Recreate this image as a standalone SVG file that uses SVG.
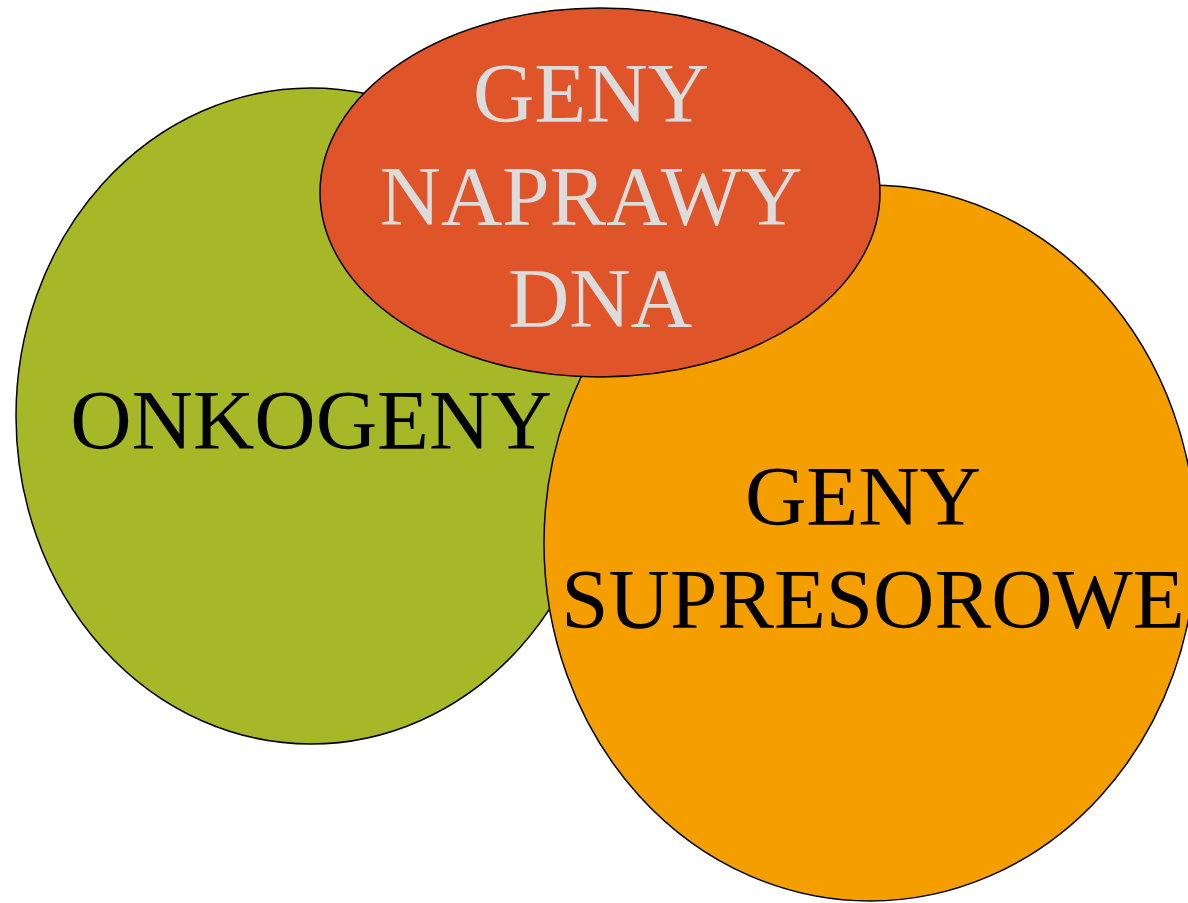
<svg xmlns="http://www.w3.org/2000/svg" width="1188" height="903" viewBox="0 0 1188 903">
<style>
.sh{stroke:#000;stroke-width:1.5}
.t{font-family:"Liberation Serif","Times New Roman",serif;font-size:85px;text-anchor:middle}
.dark{fill:#000}
.light{fill:#dcdcdc}
</style>
<rect width="1188" height="903" fill="#fff"/>
<g id="onkogeny">
<ellipse class="sh" cx="311" cy="416" rx="295" ry="328" fill="#a6b728"/>
<text class="t dark" x="311" y="449">ONKOGENY</text>
</g>
<g id="supresorowe">
<ellipse class="sh" cx="870" cy="543" rx="326" ry="358" fill="#f49e00"/>
<text class="t dark" x="863" y="525">GENY</text>
<text class="t dark" x="873" y="628">SUPRESOROWE</text>
</g>
<g id="naprawy">
<ellipse class="sh" cx="600" cy="192.5" rx="280" ry="184.5" fill="#e0542a"/>
<text class="t light" x="591" y="122">GENY</text>
<text class="t light" x="591" y="225">NAPRAWY</text>
<text class="t light" x="600" y="327">DNA</text>
</g>
<g id="connectors"/>
</svg>
